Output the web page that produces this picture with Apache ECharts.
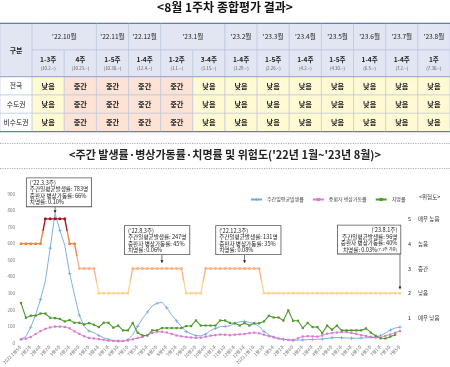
<!DOCTYPE html>
<html><head><meta charset="utf-8">
<script src="https://cdn.jsdelivr.net/npm/echarts@6/dist/echarts.min.js"></script>
<style>html,body{margin:0;padding:0;background:#fff}#c{width:450px;height:367px}</style>
</head><body><div id="c"></div>
<script>
// ---------- table data ----------
const tableColumns = ['구분','c1','c2','c3','c4','c5','c6','c7','c8','c9','c10','c11','c12','c13'];
const monthLabels = ["'22.10월","'22.11월","'22.12월","'23.1월","'23.2월","'23.3월","'23.4월","'23.5월","'23.6월","'23.7월","'23.8월"];
const monthSpans = [2,1,1,2,1,1,1,1,1,1,1];
const weekLabels = ['1-3주','4주','1-5주','1-4주','1-2주','3-4주','1-4주','1-5주','1-4주','1-5주','1-4주','1-4주','1주'];
const weekStarts = ['(10.2.~)','(10.23.~)','(10.30.~)','(12.4.~)','(1.1.~)','(1.15.~)','(1.29.~)','(2.26.~)','(4.2.~)','(4.30.~)','(6.5.~)','(7.2.~)','(7.30.~)'];
const regions = ['전국','수도권','비수도권'];
const levelNational    = ['낮음','중간','중간','중간','중간','낮음','낮음','낮음','낮음','낮음','낮음','낮음','낮음'];
const levelCapital     = ['낮음','중간','중간','중간','중간','낮음','낮음','낮음','낮음','낮음','낮음','낮음','낮음'];
const levelNonCapital  = ['낮음','중간','중간','중간','중간','낮음','낮음','낮음','낮음','낮음','낮음','낮음','낮음'];

// ---------- chart data ----------
const weeks = ['2022.1월5주','2월1주','2월2주','2월3주','2월4주','3월1주','3월2주','3월3주','3월4주',
 '4월1주','4월2주','4월3주','4월4주','5월1주','5월2주','5월3주','5월4주','5월5주',
 '6월1주','6월2주','6월3주','6월4주','7월1주','7월2주','7월3주','7월4주','7월5주',
 '8월1주','8월2주','8월3주','8월4주','9월1주','9월2주','9월3주','9월4주',
 '10월1주','10월2주','10월3주','10월4주','10월5주','11월1주','11월2주','11월3주','11월4주',
 '12월1주','12월2주','12월3주','12월4주',
 '2023.1월1주','1월2주','1월3주','1월4주','1월5주','2월1주','2월2주','2월3주','2월4주',
 '3월1주','3월2주','3월3주','3월4주','4월1주','4월2주','4월3주','4월4주','4월5주',
 '5월1주','5월2주','5월3주','5월4주','6월1주','6월2주','6월3주','6월4주',
 '7월1주','7월2주','7월3주','7월4주','7월5주'];
const incidence = [22,40,95,170,262,374,573,783,680,590, 421,290,168,100,72,62,45,31,21,15,
 11,10,20,50,100,148,187,224,240,247, 212,170,133,100,68,55,44,43,53,75,
 88,98,100,103,118,128,131,124,118,100, 70,48,36,26,22,18,16,17,18,20,
 21,22,24,28,31,33,31,30,29,28, 30,31,33,36,45,60,78,90,96];
const icuRate = [22,26,36,54,72,85,94,99,99,97, 88,70,55,40,30,27,23,19,14,12,
 12,12,15,22,30,37,48,60,68,68, 63,54,45,40,36,33,31,32,38,44,
 47,51,50,47,50,52,54,59,62,58, 50,41,34,27,22,19,17,28,39,41,
 40,38,45,56,60,63,66,66,60,55, 47,42,37,32,33,43,51,62,72];
const fatality = [241,152,165,165,178,178,152,150,145,130, 138,122,122,112,120,110,96,122,122,92,
 105,76,76,121,62,45,45,76,76,90, 90,90,90,90,102,102,136,105,105,105,
 105,136,136,121,119,105,120,105,119,119, 130,164,154,154,135,197,134,134,90,121,
 96,96,60,105,80,105,76,76,76,76, 76,88,62,43,28,27,38,50,null];
const riskLevel = [4,4,4,4,4,5,5,5,5,5, 4,4,3,3,3,3,2,2,2,2, 2,2,2,3,3,3,3,3,3,3,
 3,3,3,3,2,2,2,2,3,3, 3,3,3,3,3,3,3,3,3,3, 2,2,2,2,2,2,2,2,2,2,
 2,2,2,2,2,2,2,2,2,2, 2,2,2,2,2,2,2,2,2];
const riskTicks = ['', '매우 낮음', '낮음', '중간', '높음', '매우 높음', ''];
const yTicks = [0,100,200,300,400,500,600,700,800,900];
const seriesNames = ['주간일평균발생률','중환자 병상가동률','치명률'];
const callouts = [
  {idx:7,  lines:["('22.3.3주)","주간일평균발생률: 783명","중환자 병상가동률: 66%","치명률: 0.10%"]},
  {idx:29, lines:["('22.8.3주)","주간일평균발생률: 247명","중환자 병상가동률: 45%","치명률: 0.06%"]},
  {idx:46, lines:["('22.12.3주)","주간일평균발생률: 131명","중환자 병상가동률: 35%","치명률: 0.08%"]},
  {idx:78, lines:["('23.8.1주)","주간일평균발생률: 96명","중환자 병상가동률: 40%","치명률: 0.03%{s|(7.1주 기준)}"]}
];

// ---------- layout / style ----------
const FONT = "'Noto Sans CJK KR','Noto Sans',sans-serif";
const rowEdges = [0, 26.7, 53.4, 71.7, 90, 108.3];
const cellBg = {head:'#e1e6f2', region:'#ffffff', '낮음':'#fffad3', '중간':'#fce3d6'};
const cellRich = {
  b:{fontSize:7, fontWeight:'bold', fill:'#222', fontFamily:FONT},
  m:{fontSize:6.6, fill:'#222', fontFamily:FONT},
  w:{fontSize:6.6, fontWeight:'bold', fill:'#222', lineHeight:10, fontFamily:FONT},
  d:{fontSize:4.4, fill:'#555', lineHeight:8, fontFamily:FONT},
  r:{fontSize:6.8, fill:'#222', fontFamily:FONT},
  l:{fontSize:7.2, fontWeight:'bold', fill:'#222', fontFamily:FONT}
};

const cells = [];
cells.push({col:0,row:0,cs:1,rs:2,kind:'head',text:'{b|구분}'});
let cc = 1;
monthLabels.forEach((m,k)=>{cells.push({col:cc,row:0,cs:monthSpans[k],rs:1,kind:'head',text:'{m|'+m+'}'}); cc += monthSpans[k];});
weekLabels.forEach((w,k)=>cells.push({col:k+1,row:1,cs:1,rs:1,kind:'head',text:'{w|'+w+'}\n{d|'+weekStarts[k]+'}'}));
[levelNational, levelCapital, levelNonCapital].forEach((lv,r)=>{
  cells.push({col:0,row:2+r,cs:1,rs:1,kind:'region',text:'{r|'+regions[r]+'}'});
  lv.forEach((v,k)=>cells.push({col:k+1,row:2+r,cs:1,rs:1,kind:v,text:'{l|'+v+'}'}));
});

function renderCell(params, api){
  const c = cells[params.dataIndex];
  const bw = api.size([1,0])[0];
  const x0 = api.coord([c.col, 0])[0] - bw/2;
  const y0 = api.coord([c.col, rowEdges[c.row]])[1];
  const y1 = api.coord([c.col, rowEdges[c.row + c.rs]])[1];
  const w = bw*c.cs, h = y1 - y0;
  const ch = [
    {type:'rect', shape:{x:x0,y:y0,width:w,height:h}, style:{fill:cellBg[c.kind], stroke:'#b9c4de', lineWidth:0.6}},
    {type:'text', style:{text:c.text, x:x0+w/2, y:y0+h/2, align:'center', verticalAlign:'middle', rich:cellRich, fontFamily:FONT}}
  ];
  if (c.row === 0) ch.push({type:'line', z2:20, shape:{x1:x0,y1:y0,x2:x0+w,y2:y0}, style:{stroke:'#5f7ec0', lineWidth:1.2}});
  if (c.row + c.rs === 2) ch.push({type:'line', z2:20, shape:{x1:x0,y1:y1,x2:x0+w,y2:y1}, style:{stroke:'#8fa3d0', lineWidth:0.9}});
  if (c.row + c.rs === 5) ch.push({type:'line', z2:20, shape:{x1:x0,y1:y1,x2:x0+w,y2:y1}, style:{stroke:'#5f7ec0', lineWidth:1.2}});
  return {type:'group', children:ch};
}

function arrowPath(len){
  return 'path://M1.2,0L1.8,0L1.8,'+(len-3)+'L3,'+(len-3)+'L1.5,'+len+'L0,'+(len-3)+'L1.2,'+(len-3)+'Z';
}
const calloutGeom = [
  {gap:5.5, len:7, align:'left', dx:-28.3},
  {gap:5.3, len:9, align:'left', dx:-37},
  {gap:5.3, len:9, align:'left', dx:-28.4},
  {gap:3.7, len:36, align:'right', dx:0.4}
];
const markData = callouts.map((c,k)=>{
  const g = calloutGeom[k];
  return {
    coord:[c.idx, riskLevel[c.idx]],
    symbol: arrowPath(g.len), symbolSize:[3,g.len], symbolOffset:[0, -(g.gap + g.len/2)],
    itemStyle:{color:'#222'},
    label:{show:true, position:'inside', align:g.align, verticalAlign:'bottom', offset:[g.dx, -g.len/2],
      formatter: c.lines.join('\n'), fontSize:5.6, lineHeight:6.4, color:'#222', fontFamily:FONT,
      backgroundColor:'#fff', borderColor:'#555', borderWidth:0.8, padding:[1.5,3,1,3],
      rich:{s:{fontSize:4, color:'#222', fontFamily:FONT}}}
  };
});

const chart = echarts.init(document.getElementById('c'));
chart.setOption({
  animation:false,
  textStyle:{fontFamily:FONT},
  title:[
    {text:'<8월 1주차 종합평가 결과>', left:'center', top:1, padding:0, textStyle:{fontSize:12, fontWeight:'bold', color:'#111', fontFamily:FONT}},
    {text:"<주간 발생률·병상가동률·치명률 및 위험도('22년 1월~'23년 8월)>", left:'center', top:149, padding:0, textStyle:{fontSize:11, fontWeight:'bold', color:'#222', fontFamily:FONT}}
  ],
  graphic:[
    {type:'line', shape:{x1:0,y1:143.5,x2:450,y2:143.5}, style:{stroke:'#999', lineWidth:0.8, lineDash:[1.2,1.2]}},
    {type:'line', shape:{x1:0,y1:168.5,x2:450,y2:168.5}, style:{stroke:'#999', lineWidth:0.8, lineDash:[1.2,1.2]}},
    {type:'text', left:419, top:194, style:{text:'<위험도>', fontSize:5.5, fill:'#333', fontFamily:FONT}}
  ],
  legend:{data:seriesNames, left:250, top:197, itemWidth:11, itemHeight:4, itemGap:8, padding:0,
    textStyle:{fontSize:5, color:'#444', fontFamily:FONT}},
  grid:[
    {left:18, right:50, top:194, bottom:19},
    {left:0, right:0, top:23.3, height:108.3}
  ],
  xAxis:[
    {type:'category', gridIndex:0, data:weeks, boundaryGap:false,
     axisLine:{show:false}, axisTick:{show:false},
     axisLabel:{rotate:45, fontSize:4.5, color:'#777', interval:1, margin:3}},
    {type:'category', gridIndex:1, data:tableColumns, show:false}
  ],
  yAxis:[
    {type:'value', gridIndex:0, min:yTicks[0], max:yTicks[yTicks.length-1], interval:100, splitLine:{show:false},
     axisLine:{show:false}, axisTick:{show:false}, axisLabel:{fontSize:4.5, color:'#777', margin:6}},
    {type:'value', gridIndex:0, position:'right', min:0, max:6, interval:1, splitLine:{show:false},
     axisLine:{show:false}, axisTick:{show:false},
     axisLabel:{margin:8, align:'left', formatter:v=>riskTicks[v] ? '{n|'+v+'}{t|'+riskTicks[v]+'}' : '',
       rich:{n:{fontSize:5.5, color:'#333', width:10, fontFamily:FONT}, t:{fontSize:5.5, color:'#333', fontFamily:FONT}}}},
    {type:'value', gridIndex:1, min:0, max:rowEdges[rowEdges.length-1], inverse:true, show:false}
  ],
  visualMap:{show:false, type:'piecewise', seriesIndex:3, dimension:1,
    pieces:[{gt:4.5, color:'#a3161e'},{gt:3.5, lte:4.5, color:'#ef8446'},{gt:2.5, lte:3.5, color:'#f6b58d'},{lte:2.5, color:'#fdd590'}]},
  series:[
    {name:seriesNames[0], type:'line', data:incidence, symbol:'path://M2,0H3V2H5V3H3V5H2V3H0V2H2Z', symbolSize:3.5,
     lineStyle:{width:0.9, color:'#6fa7dc'}, itemStyle:{color:'#6fa7dc'}},
    {name:seriesNames[1], type:'line', data:icuRate, symbol:'rect', symbolSize:2.2,
     lineStyle:{width:0.9, color:'#d97ad0'}, itemStyle:{color:'#d97ad0'}},
    {name:seriesNames[2], type:'line', data:fatality, symbol:'rect', symbolSize:2.2,
     lineStyle:{width:1.1, color:'#4f9a2d'}, itemStyle:{color:'#4f9a2d'}},
    {name:'위험도', type:'line', yAxisIndex:1, data:riskLevel, symbol:'circle', symbolSize:3,
     lineStyle:{width:1.4}, markPoint:{silent:true, data:markData}},
    {type:'custom', xAxisIndex:1, yAxisIndex:2, renderItem:renderCell, silent:true,
     data:cells.map(c=>[c.col, rowEdges[c.row]]), encode:{x:0, y:1}}
  ]
});
</script></body></html>
